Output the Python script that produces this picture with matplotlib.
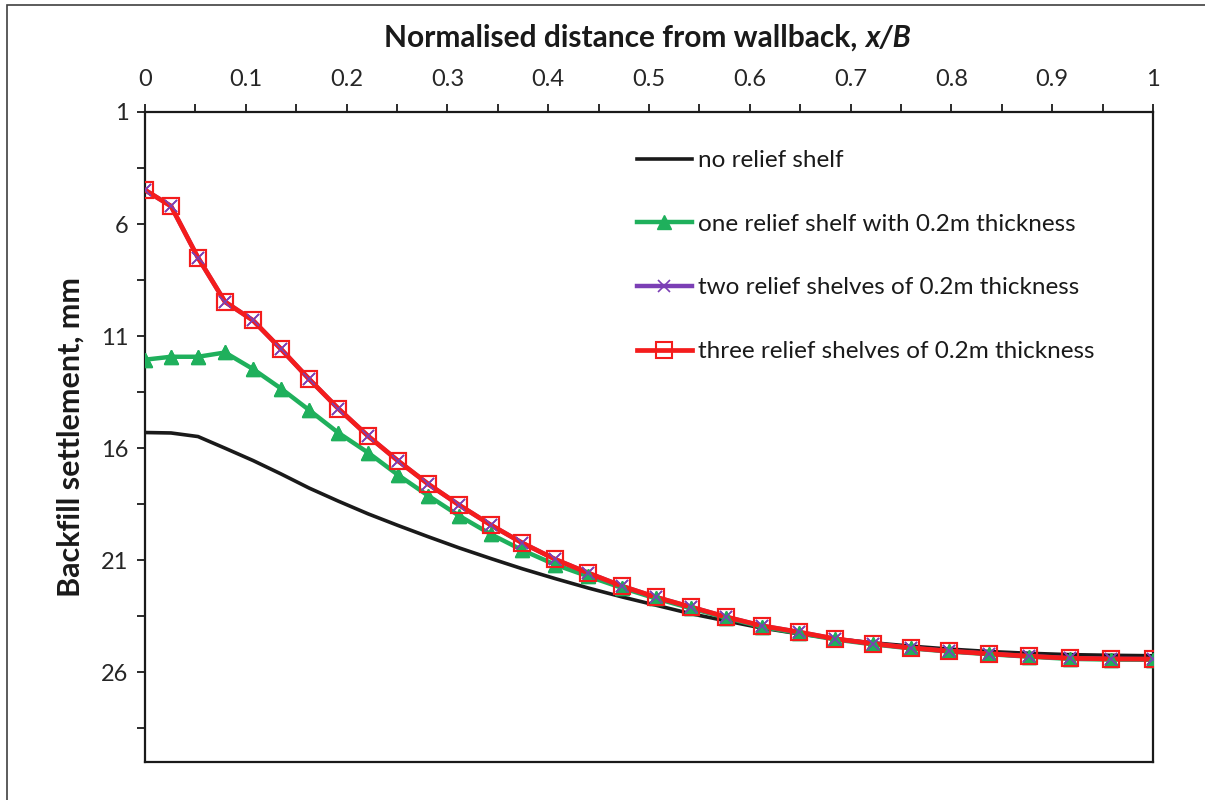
import matplotlib
matplotlib.use("Agg")
import matplotlib.pyplot as plt
from matplotlib.patches import Rectangle
from matplotlib.ticker import FixedLocator, MultipleLocator, FuncFormatter

plt.rcParams['font.family'] = ['Lato', 'DejaVu Sans']

# Normalised distance from wallback, x/B
x_over_b = [0.0, 0.0258, 0.0526, 0.0794, 0.1072, 0.1350, 0.1629, 0.1917, 0.2214,
            0.2512, 0.2810, 0.3118, 0.3436, 0.3744, 0.4071, 0.4399, 0.4737,
            0.5065, 0.5412, 0.5760, 0.6117, 0.6485, 0.6842, 0.7219, 0.7597,
            0.7974, 0.8371, 0.8769, 0.9176, 0.9583, 1.0]

# Backfill settlement (mm)
no_shelf = [15.30, 15.32, 15.48, 16.00, 16.55, 17.15, 17.78, 18.36, 18.93,
            19.45, 19.95, 20.45, 20.93, 21.38, 21.82, 22.24, 22.64,
            23.00, 23.38, 23.70, 24.02, 24.28, 24.50, 24.68, 24.83,
            24.96, 25.07, 25.15, 25.21, 25.24, 25.26]

one_shelf = [12.05, 11.92, 11.92, 11.73, 12.47, 13.34, 14.30, 15.31, 16.20,
             17.20, 18.12, 19.02, 19.85, 20.55, 21.20, 21.72, 22.24,
             22.70, 23.14, 23.56, 23.97, 24.25, 24.53, 24.75, 24.93,
             25.07, 25.19, 25.30, 25.40, 25.43, 25.44]

two_shelves = [4.48, 5.20, 7.50, 9.47, 10.30, 11.58, 12.92, 14.23, 15.46,
               16.57, 17.60, 18.54, 19.44, 20.23, 20.96, 21.57, 22.16,
               22.64, 23.08, 23.52, 23.92, 24.20, 24.50, 24.72, 24.91,
               25.05, 25.17, 25.28, 25.37, 25.40, 25.41]

three_shelves = [4.48, 5.20, 7.50, 9.47, 10.30, 11.58, 12.92, 14.23, 15.46,
                 16.57, 17.60, 18.54, 19.44, 20.23, 20.96, 21.57, 22.16,
                 22.64, 23.08, 23.52, 23.92, 24.20, 24.50, 24.72, 24.91,
                 25.05, 25.17, 25.28, 25.37, 25.40, 25.41]

labels = ["no relief shelf",
          "one relief shelf with 0.2m thickness",
          "two relief shelves of 0.2m thickness",
          "three relief shelves of 0.2m thickness"]

x_ticks = [0, 0.1, 0.2, 0.3, 0.4, 0.5, 0.6, 0.7, 0.8, 0.9, 1]
y_ticks = [1, 6, 11, 16, 21, 26]
y_minor = [3.5, 8.5, 13.5, 18.5, 23.5, 28.5]

BLACK = "#1a1a1a"
GREEN = "#1fb05c"
PURPLE = "#7b3fb5"
RED = "#f41c1c"

fig = plt.figure(figsize=(12.05, 8.0), dpi=100)
ax = fig.add_axes([145 / 1205, 1 - 762 / 800, (1153 - 145) / 1205, (762 - 112) / 800])

# outer chart frame
fig.patches.append(Rectangle((7 / 1205, -0.05), 1.2, 1 - 5 / 800 + 0.05,
                             transform=fig.transFigure, fill=False,
                             edgecolor="#404040", lw=1.2, zorder=0))

# curves
ax.plot(x_over_b, no_shelf, color=BLACK, lw=2.6, zorder=2, label=labels[0])
ax.plot(x_over_b, one_shelf, color=GREEN, lw=3.2, marker="^", ms=10,
        mfc=GREEN, mec=GREEN, zorder=3, label=labels[1])
ax.plot(x_over_b, two_shelves, color=PURPLE, lw=3.2, marker="x", ms=9,
        mew=1.2, mec=PURPLE, zorder=4, label=labels[2])
ax.plot(x_over_b, three_shelves, color=RED, lw=3.4, marker="s", ms=12,
        mfc="none", mec=RED, mew=1.5, zorder=5, label=labels[3])

# markers kept above the red line
ax.plot(x_over_b, one_shelf, ls="none", marker="^", ms=10, mfc=GREEN, mec=GREEN, zorder=6)
ax.plot(x_over_b, two_shelves, ls="none", marker="x", ms=9, mew=1.2, mec=PURPLE, zorder=7)
ax.plot(x_over_b, three_shelves, ls="none", marker="s", ms=12, mfc="none",
        mec=RED, mew=1.5, zorder=8)

ax.set_xlim(0, 1)
ax.set_ylim(30, 1)

ax.xaxis.tick_top()
ax.set_xticks(x_ticks)
ax.xaxis.set_minor_locator(MultipleLocator(0.05))
ax.xaxis.set_major_formatter(FuncFormatter(lambda v, p: f"{v:g}"))
ax.set_yticks(y_ticks)
ax.yaxis.set_minor_locator(FixedLocator(y_minor))

ax.tick_params(axis="both", which="both", direction="out", length=6, width=1.3,
               color=BLACK, labelsize=17, labelcolor="#262626")
ax.tick_params(axis="x", which="both", pad=10)
ax.tick_params(axis="y", which="both", pad=6)

for s in ax.spines.values():
    s.set_color(BLACK)
    s.set_linewidth(1.6)

fig.text(865 / 1205, 1 - 38 / 800, "Normalised distance from wallback, ",
         fontsize=21.5, fontweight="bold", ha="right", va="center", color="#1a1a1a")
fig.text(865 / 1205, 1 - 38 / 800, "x/B", fontsize=21.5, fontweight="bold",
         style="italic", ha="left", va="center", color="#1a1a1a")

ax.set_ylabel("Backfill settlement, mm", fontsize=22, fontweight="bold",
              labelpad=12, color="#1a1a1a")

leg = ax.legend(loc="upper left", bbox_to_anchor=(0.488, 0.941), frameon=False,
                fontsize=17.5, handlelength=2.25, handletextpad=0.25,
                labelspacing=1.75, borderpad=0, borderaxespad=0)
for t in leg.get_texts():
    t.set_color("#1a1a1a")

fig.savefig("out.png", dpi=100)
